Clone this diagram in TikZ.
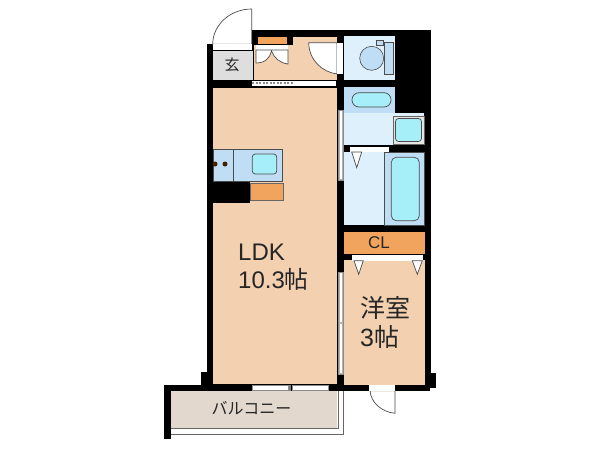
\documentclass[tikz,border=0pt]{standalone}
\usepackage{fontspec}
\setmainfont{Liberation Sans}
\newfontfamily\cjk{Noto Sans CJK JP}
\definecolor{floorc}{HTML}{F2D0B0}
\definecolor{fixc}{HTML}{BFDDF5}
\definecolor{waterc}{HTML}{A6EEF8}
\definecolor{palec}{HTML}{DDF0FC}
\definecolor{storec}{HTML}{F0A45E}
\definecolor{balc}{HTML}{E2D8CE}
\definecolor{entc}{HTML}{DEDEDE}
\tikzset{
  x=1pt,y=-1pt,
  wall/.style={fill=black,draw=none},
  fixture/.style={fill=fixc,draw=black!70,line width=.6pt},
  water/.style={fill=waterc,draw=black!70,line width=.7pt,rounded corners=3pt},
  door/.style={fill=white,draw=black!70,line width=.7pt},
  sash/.style={fill=white,draw=black!45,line width=.4pt},
  rail/.style={draw=black!60,line width=.8pt},
  txt/.style={inner sep=0pt,text=black!85,align=left}
}
\begin{document}
\begin{tikzpicture}
  \useasboundingbox (0,0) rectangle (600,450);
  % walls
  \fill[wall] (252,30) rectangle (431,100);
  \fill[wall] (207,44) rectangle (431,385);
  \fill[wall] (164,385) rectangle (430,391);
  \fill[wall] (164,385) rectangle (171,439);
  \fill[wall] (201,372) rectangle (222,385);
  \fill[wall] (416,373) rectangle (436,388);
  % balcony
  \fill[balc] (171,391) rectangle (337,428);
  \draw[rail] (171,428) -- (338,428) -- (338,391);
  \draw[rail] (171,434.5) -- (343.5,434.5) -- (343.5,391);
  % floors
  \fill[floorc] (213,88) rectangle (337,384);
  \fill[floorc] (293,37) rectangle (337,80);
  \fill[floorc] (254,45) rectangle (293,80);
  \fill[entc] (213,51) rectangle (252.5,80);
  \fill[floorc] (344,260) rectangle (424.5,385);
  % wc
  \fill[palec] (344,36) rectangle (395,80);
  \draw[fixture] (376,40) rectangle (383.5,45.5);
  \draw[fixture] (384,42.5) rectangle (393.5,74);
  \draw[fixture] (371.7,58.3) circle (12);
  % washroom
  \fill[fixc] (344,87) rectangle (395,113);
  \fill[palec] (344,113) rectangle (424,145);
  \draw[water,rounded corners=7pt] (352,92.7) rectangle (391,107);
  \draw[fill=black!10,draw=black!60,line width=.6pt] (393,116) rectangle (424,144);
  \draw[water] (395.5,118.5) rectangle (421.5,141.5);
  % bath
  \fill[palec] (344,152) rectangle (384,225);
  \draw[fixture] (384.5,152) rectangle (424,225);
  \draw[water,rounded corners=5pt] (391.3,157.3) rectangle (419.3,220.7);
  \fill[white] (350,146.7) rectangle (389,151.7);
  \draw[door] (351.7,152) -- (361.7,152) -- (356.7,167.7) -- cycle;
  % closet
  \fill[storec] (344,232) rectangle (424.5,254.3);
  \fill[storec] (257.7,36.7) rectangle (286.7,44.3);
  \fill[white] (352,255) rectangle (423,260.7);
  \draw[door] (354,260.7) -- (363.3,260.7) -- (358.7,274.3) -- cycle;
  \draw[door] (412.3,260.7) -- (422.3,260.7) -- (417.3,274.3) -- cycle;
  \fill[white] (256,45) rectangle (288,50);
  \draw[door] (256,50) -- (256,63) .. controls (265,63) and (270,58) .. (271.5,51) .. controls (274,58) and (280,63) .. (288,64) -- (288,50) -- cycle;
  % kitchen
  \draw[fixture] (213,149) rectangle (233.3,181.7);
  \draw[fixture] (233.3,149) rectangle (282.7,181.7);
  \draw[water] (252.3,154) rectangle (276.7,174);
  \fill[black!75!orange] (215,164) circle (2.5);
  \fill[black!75!orange] (225,164) circle (2.5);
  \fill[wall] (207,182.3) rectangle (250,203.3);
  \draw[fill=storec,draw=black!60,line width=.4pt] (250,182.7) rectangle (282.7,200);
  % doors
  \draw[door] (251.7,44.3) -- (251.7,9) .. controls (230,9) and (212.7,25) .. (212.7,44.3) -- cycle;
  \fill[white] (212.7,44) rectangle (252,50);
  \draw[door] (337,74) .. controls (322,72) and (309,60) .. (308.7,42.7) -- (337,42.7) -- cycle;
  \fill[white] (337,42.7) rectangle (343,74);
  \draw[door] (395,390.7) -- (395,413.3) .. controls (382,412) and (371,403) .. (370,390.7) -- cycle;
  \fill[white] (369.3,385) rectangle (395,390.7);
  % sashes
  \fill[white] (252,81) rectangle (336,86);
  \draw[black!45,line width=2pt,dash pattern=on 2pt off 1.5pt] (252,82.5) -- (294,82.5);
  \draw[sash,fill=black!30] (338,110) rectangle (343,180);
  \fill[white] (339.5,111) rectangle (341.5,179);
  \draw[sash,fill=black!30] (338,271.7) rectangle (343.3,374);
  \fill[white] (339.5,273) rectangle (341.5,322);
  \fill[white] (339.5,324) rectangle (341.5,373);
  \draw[sash] (251.7,385.5) rectangle (288,390);
  \draw[sash] (292,385.5) rectangle (328,390);
  \fill[black!50] (289,385) rectangle (291,391);
  % labels
  \node[txt,anchor=west,font=\cjk\fontsize{15}{15}\selectfont] (genkan) at (224.5,65) {玄};
  \node[txt,font=\fontsize{17}{17}\selectfont] (cl) at (379,243) {CL};
  \node[txt,anchor=west,font=\fontsize{24}{28}\selectfont] (ldk) at (238,267) {LDK\\10.3{\cjk 帖}};
  \node[txt,anchor=west,font=\fontsize{25}{29}\selectfont] (room) at (360,322) {{\cjk 洋室}\\3{\cjk 帖}};
  \node[txt,font=\cjk\fontsize{16}{16}\selectfont] (balcony) at (251.5,408) {バルコニー};
\end{tikzpicture}
\end{document}
